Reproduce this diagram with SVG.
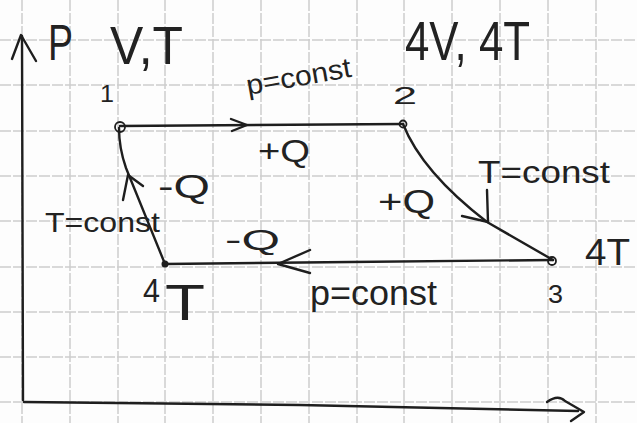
<svg xmlns="http://www.w3.org/2000/svg" width="637" height="423" viewBox="0 0 637 423">
<style>
.grid line{stroke:#cdcdcd;stroke-width:1.5;stroke-dasharray:11 2}
.ink{fill:none;stroke:#1e1e1e;stroke-width:2.4;stroke-linecap:round;stroke-linejoin:round}
.t{font-family:"Liberation Sans","DejaVu Sans",sans-serif;fill:#222}
.pt{fill:none;stroke:#1e1e1e;stroke-width:1.8}
</style>
<rect width="637" height="423" fill="#fdfdfd"/>
<g class="grid">
<line x1="22" y1="0" x2="22" y2="423"/><line x1="70" y1="0" x2="70" y2="423"/><line x1="118" y1="0" x2="118" y2="423"/><line x1="165" y1="0" x2="165" y2="423"/><line x1="213" y1="0" x2="213" y2="423"/><line x1="261" y1="0" x2="261" y2="423"/><line x1="309" y1="0" x2="309" y2="423"/><line x1="357" y1="0" x2="357" y2="423"/><line x1="404" y1="0" x2="404" y2="423"/><line x1="452" y1="0" x2="452" y2="423"/><line x1="500" y1="0" x2="500" y2="423"/><line x1="548" y1="0" x2="548" y2="423"/><line x1="596" y1="0" x2="596" y2="423"/>
<line x1="0" y1="40" x2="637" y2="40"/><line x1="0" y1="85" x2="637" y2="85"/><line x1="0" y1="131" x2="637" y2="131"/><line x1="0" y1="176" x2="637" y2="176"/><line x1="0" y1="221" x2="637" y2="221"/><line x1="0" y1="267" x2="637" y2="267"/><line x1="0" y1="312" x2="637" y2="312"/><line x1="0" y1="357" x2="637" y2="357"/><line x1="0" y1="402" x2="637" y2="402"/>
</g>
<g id="axes">
<path class="ink" d="M23 400 L22 36"/>
<path class="ink" d="M12 59 L21 35 L36 61"/>
<path class="ink" d="M24 402 L300 405 L578 411"/>
<path class="ink" d="M547 402 Q558 394 565 401 L584 412 L571 421"/>
<text class="t" x="48" y="60" font-size="50" textLength="25" lengthAdjust="spacingAndGlyphs">P</text>
</g>
<g id="connectors">
<path id="c12" class="ink" d="M120 126 L403 124"/>
<path class="ink" d="M231 119 L247 125 L232 131"/>
<path id="c23" class="ink" d="M403 124 Q422 172 487 222 L553 260"/>
<path class="ink" d="M487 190 L488 222 L462 216"/>
<path id="c34" class="ink" d="M553 260 L350 262 L165 264"/>
<path class="ink" d="M310 250 L278 264 L310 273"/>
<path id="c41" class="ink" d="M165 264 L126 168 Q119 148 119 128"/>
<path class="ink" d="M123 200 L128 175 L143 186"/>
</g>
<g id="node1">
<circle class="pt" cx="120" cy="127" r="5"/>
<text class="t" x="100" y="102" font-size="23" textLength="14" lengthAdjust="spacingAndGlyphs">1</text>
<text class="t" x="110" y="64" font-size="54" textLength="73" lengthAdjust="spacingAndGlyphs">V,T</text>
</g>
<g id="node2">
<circle class="pt" cx="403" cy="124" r="3.5"/>
<text class="t" x="393" y="104" font-size="24" textLength="24" lengthAdjust="spacingAndGlyphs">2</text>
<text class="t" x="405" y="60" font-size="56" textLength="125" lengthAdjust="spacingAndGlyphs">4V, 4T</text>
</g>
<g id="node3">
<circle class="pt" cx="552" cy="261" r="4"/>
<text class="t" x="548" y="303" font-size="26" textLength="15" lengthAdjust="spacingAndGlyphs">3</text>
<text class="t" x="585" y="265" font-size="36" textLength="45" lengthAdjust="spacingAndGlyphs">4T</text>
</g>
<g id="node4">
<circle cx="165" cy="264" r="3.5" fill="#1e1e1e"/>
<text class="t" x="143" y="302" font-size="34" textLength="17" lengthAdjust="spacingAndGlyphs">4</text>
<text class="t" x="165" y="320" font-size="50" textLength="40" lengthAdjust="spacingAndGlyphs">T</text>
</g>
<g id="labels">
<text class="t" x="248" y="95" font-size="28" textLength="106" lengthAdjust="spacingAndGlyphs" transform="rotate(-10 248 95)">p=const</text>
<text class="t" x="258" y="162" font-size="32" textLength="52" lengthAdjust="spacingAndGlyphs">+Q</text>
<text class="t" x="478" y="183" font-size="32" textLength="132" lengthAdjust="spacingAndGlyphs">T=const</text>
<text class="t" x="378" y="213" font-size="34" textLength="57" lengthAdjust="spacingAndGlyphs">+Q</text>
<text class="t" x="310" y="305" font-size="35" textLength="127" lengthAdjust="spacingAndGlyphs">p=const</text>
<text class="t" x="225" y="250" font-size="30" textLength="55" lengthAdjust="spacingAndGlyphs">-Q</text>
<text class="t" x="158" y="198" font-size="33" textLength="52" lengthAdjust="spacingAndGlyphs">-Q</text>
<text class="t" x="45" y="232" font-size="28" textLength="115" lengthAdjust="spacingAndGlyphs">T=const</text>
</g>
</svg>
